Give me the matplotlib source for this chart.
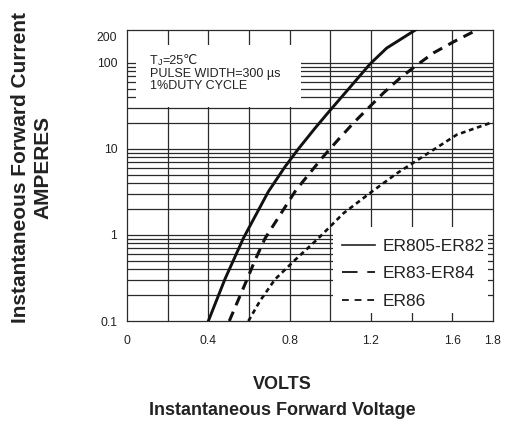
import matplotlib
matplotlib.use("Agg")
import matplotlib.pyplot as plt
from matplotlib.lines import Line2D
from matplotlib.patches import Rectangle

plt.rcParams["font.family"] = ["Liberation Sans", "DejaVu Sans"]

# forward characteristics (240 = top of frame)
v_er805 = [0.400, 0.482, 0.572, 0.695, 0.777, 0.843, 0.925, 0.990, 1.097, 1.195, 1.277, 1.418]
i_er805 = [0.1, 0.308, 0.913, 3.18, 6.19, 10.0, 17.4, 26.5, 52.0, 96.6, 148.0, 240.0]

v_er83 = [0.503, 0.589, 0.630, 0.679, 0.831, 0.966, 1.039, 1.113, 1.187, 1.261, 1.343, 1.417,
          1.507, 1.610, 1.720]
i_er83 = [0.1, 0.299, 0.511, 0.913, 3.32, 8.18, 12.8, 19.9, 29.8, 44.5, 66.4, 90.8,
          130.0, 177.0, 240.0]

v_er86 = [0.597, 0.654, 0.728, 0.826, 0.941, 1.064, 1.204, 1.327, 1.457, 1.622, 1.800]
i_er86 = [0.1, 0.171, 0.305, 0.511, 0.913, 1.78, 3.18, 5.19, 8.18, 14.6, 20.5]

labels = ["ER805-ER82", "ER83-ER84", "ER86"]

x_ticks = [0, 0.4, 0.8, 1.2, 1.6, 1.8]
x_ticklabels = ["0", "0.4", "0.8", "1.2", "1.6", "1.8"]
y_ticks = [0.1, 1, 10, 100, 200]
y_ticklabels = ["0.1", "1", "10", "100", "200"]

x_grid = [0.2, 0.4, 0.6, 0.8, 1.0, 1.2, 1.4, 1.6]
y_grid = [m * 10.0 ** k for k in (-1, 0, 1) for m in range(2, 10)] + [1, 10, 100]

fig = plt.figure(figsize=(5.07, 4.24), dpi=100)
ax = fig.add_axes([0.2505, 0.2429, 0.7219, 0.6863])
ax.set_yscale("log")
ax.set_xlim(0, 1.8)
ax.set_ylim(0.1, 240)

grid_color = "#2a2a2a"
ink = "#222222"
for xv in x_grid:
    ax.axvline(xv, color=grid_color, lw=0.9, zorder=0.5)
for yv in y_grid:
    ax.axhline(yv, color=grid_color, lw=0.9, zorder=0.5)

# white panels behind the note and the legend
ax.add_patch(Rectangle((0.044, 31), 0.856 - 0.044, 160 - 31, facecolor="white",
                       edgecolor="none", zorder=1))
ax.add_patch(Rectangle((1.013, 0.124), 1.776 - 1.013, 1.25 - 0.124, facecolor="white",
                       edgecolor="none", zorder=1))

ax.plot(v_er805, i_er805, color="#111111", lw=2.1, zorder=3)
ax.plot(v_er83, i_er83, color="#111111", lw=2.2, dashes=(3.3, 2.3), zorder=3)
ax.plot(v_er86, i_er86, color="#111111", lw=1.9, dashes=(1.8, 1.4), zorder=3)

for s in ax.spines.values():
    s.set_linewidth(0.9)
    s.set_color(grid_color)

ax.set_xticks(x_ticks)
ax.set_xticklabels(x_ticklabels)
ax.set_yticks(y_ticks)
ax.set_yticklabels(y_ticklabels)
ax.minorticks_off()
ax.tick_params(length=0, labelsize=8.7, colors=ink)
ax.tick_params(axis="x", pad=10)
ax.tick_params(axis="y", pad=7)

# note: T with a small J, then the rest
note_x, note_y = 0.063, 0.893
ax.text(note_x, note_y, "T", transform=ax.transAxes, fontsize=9,
        va="center", ha="left", color=ink, zorder=4)
ax.annotate("J", xy=(note_x, note_y), xycoords="axes fraction",
            xytext=(5.6, -1.0), textcoords="offset points", fontsize=6.5,
            va="center", ha="left", color=ink, zorder=4)
ax.annotate("=25\u2103", xy=(note_x, note_y), xycoords="axes fraction",
            xytext=(9.0, 0), textcoords="offset points", fontsize=9,
            va="center", ha="left", color=ink, zorder=4)
ax.text(note_x, 0.850, "PULSE WIDTH=300 \u00b5s", transform=ax.transAxes,
        fontsize=9, va="center", ha="left", color=ink, zorder=4)
ax.text(note_x, 0.807, "1%DUTY CYCLE", transform=ax.transAxes,
        fontsize=9, va="center", ha="left", color=ink, zorder=4)

handles = [
    Line2D([], [], color=ink, lw=1.2),
    Line2D([], [], color=ink, lw=1.4, dashes=(8, 5)),
    Line2D([], [], color=ink, lw=1.4, dashes=(3.5, 3)),
]
leg = ax.legend(handles, labels, loc="upper left", bbox_to_anchor=(0.587, 0.283),
                frameon=False, fontsize=12.5, handlelength=1.9, handletextpad=0.45,
                labelspacing=0.72, borderaxespad=0, borderpad=0)
for t in leg.get_texts():
    t.set_color(ink)

fig.text(0.040, 0.604, "Instantaneous Forward Current", rotation=90,
         fontsize=15, fontweight="bold", ha="center", va="center", color=ink)
fig.text(0.084, 0.604, "AMPERES", rotation=90,
         fontsize=15, fontweight="bold", ha="center", va="center", color=ink)
fig.text(0.556, 0.092, "VOLTS", fontsize=13, fontweight="bold",
         ha="center", va="center", color=ink)
fig.text(0.556, 0.033, "Instantaneous Forward Voltage", fontsize=13,
         fontweight="bold", ha="center", va="center", color=ink)

fig.savefig("out.png", dpi=100)
